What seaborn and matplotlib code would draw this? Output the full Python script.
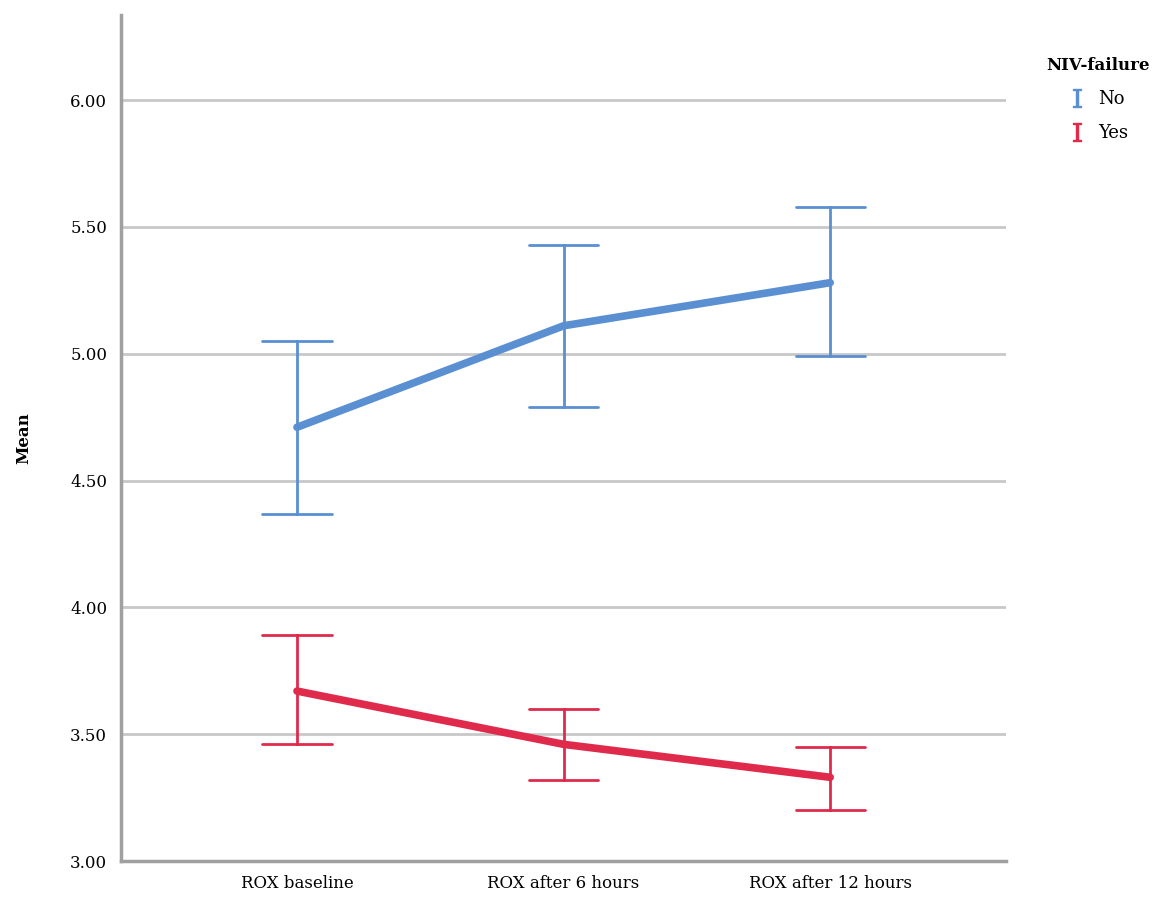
import pandas as pd
import matplotlib.pyplot as plt
import seaborn as sns
from matplotlib.lines import Line2D

# values
times = ["ROX baseline", "ROX after 6 hours", "ROX after 12 hours"]
groups = ["No", "Yes"]
mean_no = [4.71, 5.11, 5.28]
lower_no = [4.37, 4.79, 4.99]
upper_no = [5.05, 5.43, 5.58]
mean_yes = [3.67, 3.46, 3.33]
lower_yes = [3.46, 3.32, 3.20]
upper_yes = [3.89, 3.60, 3.45]
colors = {"No": "#5a8fd2", "Yes": "#df2a4c"}

# long table: median of (lower, mean, upper) = mean, 100% interval = CI
rows = []
for g, m, lo, hi in [("No", mean_no, lower_no, upper_no), ("Yes", mean_yes, lower_yes, upper_yes)]:
    for t, a, b, c in zip(times, lo, m, hi):
        for v in (a, b, c):
            rows.append({"time": t, "NIV-failure": g, "value": v})
df = pd.DataFrame(rows)

sns.set_style("white")
plt.rcParams["font.family"] = ["DejaVu Serif"]
plt.rcParams["mathtext.fontset"] = "dejavuserif"
plt.rcParams["text.color"] = "black"

fig = plt.figure(figsize=(11.57, 8.98), dpi=100)
ax = fig.add_axes([0.1046, 0.0412, 0.765, 0.942])

for y in [3.5, 4.0, 4.5, 5.0, 5.5, 6.0]:
    ax.axhline(y, color="#c8c8c8", lw=2, zorder=0)

sns.pointplot(data=df, x="time", y="value", hue="NIV-failure", hue_order=groups,
              order=times, palette=colors, estimator="median", errorbar=("pi", 100),
              capsize=0.26, markers=["", ""], linewidth=5.5,
              err_kws={"linewidth": 2}, legend=False, ax=ax)

ax.set_xlim(-0.66, 2.66)
ax.set_ylim(3.0, 6.335)
ax.set_yticks([3.0, 3.5, 4.0, 4.5, 5.0, 5.5, 6.0])
ax.set_yticklabels(["3.00", "3.50", "4.00", "4.50", "5.00", "5.50", "6.00"])
ax.tick_params(axis="both", length=0, labelsize=12, pad=10, labelcolor="black")
ax.set_xlabel("")
ax.set_ylabel("Mean", fontsize=12, fontweight="bold", color="black")
ax.yaxis.set_label_coords(-0.1, 0.5)

for s in ["top", "right"]:
    ax.spines[s].set_visible(False)
for s in ["left", "bottom"]:
    ax.spines[s].set_color("#a0a0a0")
    ax.spines[s].set_linewidth(2.5)

handles = [Line2D([], [], marker=r"$\mathrm{I}$", linestyle="none", color=colors[g], markersize=13) for g in groups]
leg = fig.legend(handles, groups, title="NIV-failure", loc="upper left",
                 bbox_to_anchor=(0.89, 0.955), frameon=False, fontsize=13,
                 handlelength=3.4, handletextpad=-0.5, labelspacing=0.9)
leg.get_title().set_fontweight("bold")
leg.get_title().set_fontsize(12)
leg._legend_box.align = "left"

fig.savefig("out.png", dpi=100)
